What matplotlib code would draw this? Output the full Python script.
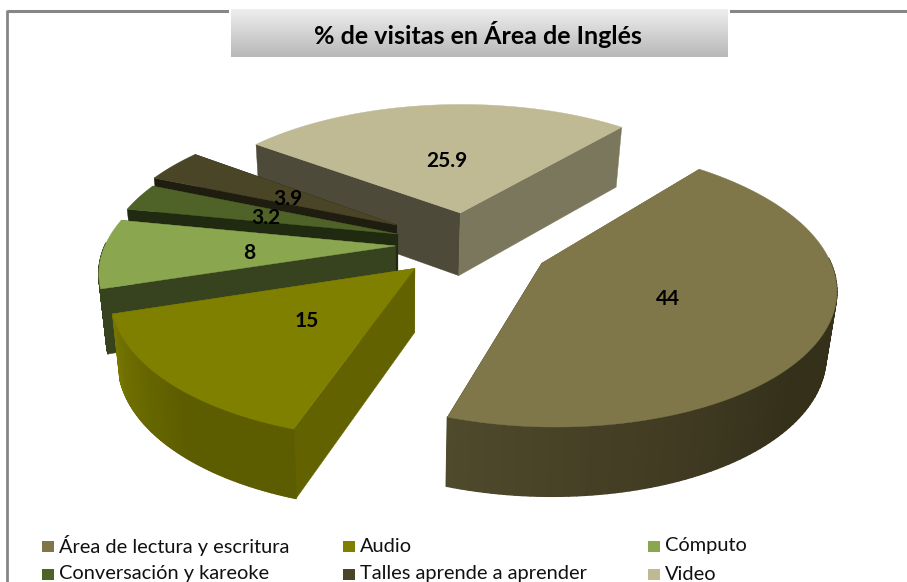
import numpy as np
import matplotlib
matplotlib.use("Agg")
import matplotlib.pyplot as plt
from matplotlib.collections import PolyCollection
from matplotlib.patches import Polygon, Rectangle

plt.rcParams['font.family'] = ['Lato', 'DejaVu Sans']

categories = ['Área de lectura y escritura', 'Audio', 'Cómputo',
              'Conversación y kareoke', 'Talles aprende a aprender', 'Video']
values = [44, 15, 8, 3.2, 3.9, 25.9]
value_labels = ['44', '15', '8', '3.2', '3.9', '25.9']
title = '% de visitas en Área de Inglés'

top_colors = ['#7f7649', '#7f7f00', '#8aa64f', '#4f6228', '#4a4526', '#bfba94']
start_wall = ['#6e6640', '#626200', '#37431f', '#1f2a10', '#1f1c10', '#4e4a3a']
end_wall = ['#2f2a18', '#626200', '#37431f', '#1f2a10', '#1f1c10', '#7b775c']
outer_from = ['#35301a', '#5c5c00', '#37431f', '#1f2a10', '#1f1c10', '#7d7860']
outer_to = ['#4f4a2c', '#767600', '#37431f', '#1f2a10', '#1f1c10', '#7d7860']
explode = [0.285, 0.25, 0.25, 0.256, 0.29, 0.24]
radius = [0.975, 1.0, 1.0, 1.0, 1.0, 1.0]
label_r = [0.46, 0.47, 0.50, 0.50, 0.47, 0.47]
first_angle = 50.0

W, H = 907, 582
CX, CY = 468, 244
RX, TZ, P, DEPTH = 290, 135, 0.16, 53
SHRINK, VX = 0.975, 400

fig = plt.figure(figsize=(W / 100, H / 100), dpi=100)
ax = fig.add_axes([0, 0, 1, 1])
ax.set_xlim(0, W)
ax.set_ylim(H, 0)
ax.axis('off')


def proj(x, z):
    s = 1 / (1 + P * z)
    return CX + RX * x * s, CY - TZ * z * s


def proj_low(x, z):
    s = 1 / (1 + P * z)
    X, Y = proj(x, z)
    return VX + (X - VX) * SHRINK, Y + DEPTH * (0.7 + 0.5 * s)


def hexrgb(c):
    return np.array(matplotlib.colors.to_rgb(c))


# frame: top and left edges only
ax.plot([7, W], [11.3, 11.3], color='#868686', lw=2.2, zorder=0, solid_capstyle='butt')
ax.plot([7, 7], [10.2, H], color='#868686', lw=2.0, zorder=0, solid_capstyle='butt')

# title band with vertical gradient
grad = np.linspace(0, 1, 64)[:, None]
cmap = matplotlib.colors.LinearSegmentedColormap.from_list('t', ['#eeeeee', '#b8b8b8'])
ax.add_patch(Rectangle((229, 7), 501, 52, fc='white', ec='none', zorder=1))
ax.imshow(grad, extent=(231, 728, 57, 9), cmap=cmap, aspect='auto', zorder=2)
ax.set_xlim(0, W)
ax.set_ylim(H, 0)
ax.text(478, 34, title, ha='center', va='center', fontsize=18, fontweight='bold',
        color='black', zorder=3)

# slice geometry from the values
fracs = np.array(values) / np.sum(values) * 360
starts = first_angle - np.concatenate([[0], np.cumsum(fracs)[:-1]])
ends = starts - fracs
order = [5, 4, 3, 2, 0, 1]

for i in order:
    mid = np.deg2rad((starts[i] + ends[i]) / 2)
    ox, oz = explode[i] * np.cos(mid), explode[i] * np.sin(mid)
    th = np.deg2rad(np.linspace(starts[i], ends[i], 120))
    a_, b_ = ox + radius[i] * np.cos(th), oz + radius[i] * np.sin(th)
    arc_top = np.array([proj(a, b) for a, b in zip(a_, b_)])
    arc_bot = np.array([proj_low(a, b) for a, b in zip(a_, b_)])
    apex_t = np.array(proj(ox, oz))
    apex_b = np.array(proj_low(ox, oz))
    z = 10 + order.index(i) * 3

    # radial walls
    ax.add_patch(Polygon([apex_t, arc_top[0], arc_bot[0], apex_b], fc=start_wall[i],
                         ec=start_wall[i], lw=0.3, zorder=z))
    ax.add_patch(Polygon([apex_t, arc_top[-1], arc_bot[-1], apex_b], fc=end_wall[i],
                         ec=end_wall[i], lw=0.3, zorder=z))
    # outer wall: only the part turned to the viewer, shaded along the arc
    front = [k for k in range(len(th) - 1) if np.sin(th[k]) < 0.02 or np.sin(th[k + 1]) < 0.02]
    if front:
        quads = [[arc_top[k], arc_top[k + 1], arc_bot[k + 1], arc_bot[k]] for k in front]
        t = np.clip((np.linspace(0, 1, len(quads))[:, None] - 0.4) / 0.6, 0, 1)
        cols = hexrgb(outer_from[i]) * (1 - t) + hexrgb(outer_to[i]) * t
        ax.add_collection(PolyCollection(quads, facecolors=cols, edgecolors=cols, linewidths=1.0,
                                         zorder=z + 1))
    # top
    ax.add_patch(Polygon(np.vstack([apex_t, arc_top]), fc=top_colors[i], ec=top_colors[i],
                         lw=0.3, zorder=z + 2))
    lx, lz = ox + label_r[i] * np.cos(mid), oz + label_r[i] * np.sin(mid)
    px, py = proj(lx, lz)
    ax.text(px, py + 3, value_labels[i], ha='center', va='center', fontsize=15,
            fontweight='bold', color='black', zorder=40)

# legend
leg_x = [42, 343, 648]
leg_y = [546, 574]
for k, name in enumerate(categories):
    x, y = leg_x[k % 3], leg_y[k // 3]
    ax.add_patch(Rectangle((x, y - 5.5), 11.5, 11.5, fc=top_colors[k], ec='none', zorder=5))
    ax.text(x + 17, y, name, ha='left', va='center', fontsize=14.4, color='#111111', zorder=5)

fig.savefig('out.png', dpi=100)
